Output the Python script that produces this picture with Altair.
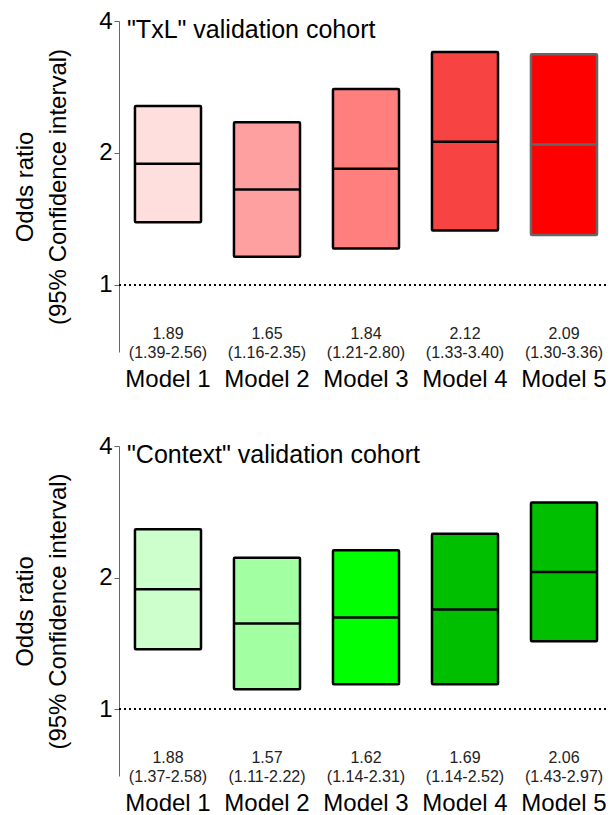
import altair as alt
import pandas as pd

FONT = "Liberation Sans"

models = ["Model 1", "Model 2", "Model 3", "Model 4", "Model 5"]

txl_or = [1.89, 1.65, 1.84, 2.12, 2.09]
txl_lo = [1.39, 1.16, 1.21, 1.33, 1.30]
txl_hi = [2.56, 2.35, 2.80, 3.40, 3.36]

ctx_or = [1.88, 1.57, 1.62, 1.69, 2.06]
ctx_lo = [1.37, 1.11, 1.14, 1.14, 1.43]
ctx_hi = [2.58, 2.22, 2.31, 2.52, 2.97]

red_fill = ["#FFDEDE", "#FFA0A0", "#FF7F7F", "#F84343", "#FF0000"]
red_stroke = ["#000000", "#000000", "#000000", "#000000", "#666666"]
green_fill = ["#CCFFCC", "#A2FFA2", "#00FF00", "#00BF00", "#00BF00"]
green_stroke = ["#000000", "#000000", "#000000", "#000000", "#000000"]

y_ticks = [1, 2, 4]
y_domain = [0.703, 4]
label_pos = 0.773


def panel(title, est, lo, hi, fills, strokes, height):
    df = pd.DataFrame({"model": models, "est": est, "lo": lo, "hi": hi})
    df["label"] = [f"{e:.2f}\n({l:.2f}-{h:.2f})" for e, l, h in zip(est, lo, hi)]

    x = alt.X(
        "model:N",
        sort=models,
        scale=alt.Scale(paddingInner=0.333, paddingOuter=0.126, align=0.64),
        axis=alt.Axis(
            title=None, labelAngle=0, domain=False, ticks=False,
            labelFontSize=24, labelPadding=15, labelColor="black", labelFont=FONT,
        ),
    )
    yscale = alt.Scale(type="log", domain=y_domain, nice=False)
    yaxis = alt.Axis(
        values=y_ticks, format="~g", grid=False,
        title=["Odds ratio", "(95% Confidence interval)"],
        titleFontSize=24, titleFont=FONT, titleFontWeight="normal", titleColor="black",
        titleLineHeight=33, titlePadding=28,
        labelFontSize=24, labelFont=FONT, labelColor="black", labelPadding=2,
        tickSize=5, tickColor="#666666", domainColor="#666666", tickWidth=1, domainWidth=1,
    )
    color = alt.Color("model:N", scale=alt.Scale(domain=models, range=fills), legend=None)
    stroke = alt.Stroke("model:N", scale=alt.Scale(domain=models, range=strokes), legend=None)

    base = alt.Chart(df)
    boxes = base.mark_bar(strokeWidth=2.5, cornerRadius=1).encode(
        x=x,
        y=alt.Y("lo:Q", scale=yscale, axis=yaxis),
        y2="hi:Q",
        color=color,
        stroke=stroke,
    )
    mids = base.mark_bar(strokeWidth=2.5, fillOpacity=0).encode(
        x=x,
        y=alt.Y("est:Q"),
        y2="est:Q",
        stroke=stroke,
    )
    rule = base.mark_rule(strokeDash=[2, 3], strokeWidth=1.5, color="black").encode(
        y=alt.datum(1)
    )
    text = base.mark_text(
        fontSize=16, font=FONT, lineBreak="\n", lineHeight=19,
        baseline="middle", color="#222222",
    ).encode(x=x, y=alt.datum(label_pos), text="label:N")

    return alt.layer(boxes, mids, rule, text).properties(
        width=487,
        height=height,
        title=alt.TitleParams(
            text=title, anchor="start", frame="group", fontSize=25, font=FONT,
            fontWeight="normal", color="black", dx=8, offset=-54,
            baseline="alphabetic",
        ),
    )


top = panel('"TxL" validation cohort', txl_or, txl_lo, txl_hi, red_fill, red_stroke, 331)
bottom = panel('"Context" validation cohort', ctx_or, ctx_lo, ctx_hi, green_fill, green_stroke, 330)

chart = (
    alt.vconcat(top, bottom, spacing=43)
    .resolve_scale(color="independent", stroke="independent")
    .properties(padding={"left": 5, "top": 1, "right": -1, "bottom": 0})
    .configure_view(stroke=None)
)

chart.save("out.html", embed_options={"renderer": "svg", "actions": False})
